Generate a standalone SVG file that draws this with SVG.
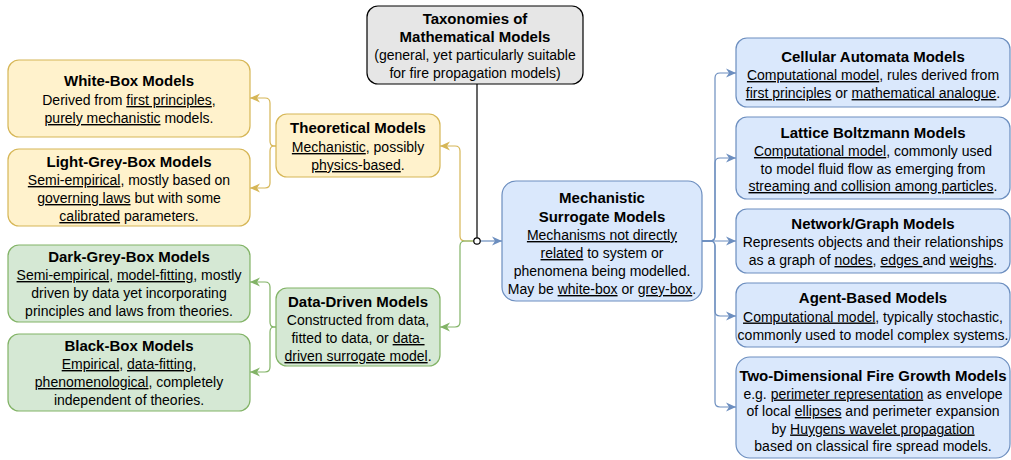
<svg xmlns="http://www.w3.org/2000/svg" width="1011" height="460" viewBox="0 0 1011 460">
<defs>
<style>
text{font-family:"Liberation Sans",Arial,Helvetica,sans-serif;font-size:14px;fill:#000;text-anchor:middle}
.t{font-weight:bold;font-size:15px}
.u{text-decoration:underline}
.y{fill:#fff2cc;stroke:#d6b656;stroke-width:1.2}
.g{fill:#d5e8d4;stroke:#82b366;stroke-width:1.2}
.b{fill:#dae8fc;stroke:#6c8ebf;stroke-width:1.2}
.k{fill:#e6e6e6;stroke:#000;stroke-width:1.2}
.cy{fill:none;stroke:#d6b656;stroke-width:1.2;marker-end:url(#ay)}
.cg{fill:none;stroke:#82b366;stroke-width:1.2;marker-end:url(#ag)}
.cb{fill:none;stroke:#6c8ebf;stroke-width:1.2;marker-end:url(#ab)}
</style>
<marker id="ay" markerUnits="userSpaceOnUse" markerWidth="11" markerHeight="10" refX="10" refY="5" orient="auto"><path d="M0,0.5 L10,5 L0,9.5 L3,5 Z" fill="#d6b656"/></marker>
<marker id="ag" markerUnits="userSpaceOnUse" markerWidth="11" markerHeight="10" refX="10" refY="5" orient="auto"><path d="M0,0.5 L10,5 L0,9.5 L3,5 Z" fill="#82b366"/></marker>
<marker id="ab" markerUnits="userSpaceOnUse" markerWidth="11" markerHeight="10" refX="10" refY="5" orient="auto"><path d="M0,0.5 L10,5 L0,9.5 L3,5 Z" fill="#6c8ebf"/></marker>
</defs>

<g id="connectors">
<path d="M477,84 V238" fill="none" stroke="#000" stroke-width="1.2"/>
<path class="cb" d="M480,241 H502"/>
<path class="cy" d="M474,241 H465 Q460,241 460,236 V151 Q460,146 455,146 H440"/>
<path class="cg" d="M474,241 H465 Q460,241 460,246 V322 Q460,327 455,327 H440"/>
<path class="cy" d="M276,146 H274 Q270,146 270,141 V103 Q270,98 265,98 H250"/>
<path class="cy" d="M276,146 H274 Q270,146 270,151 V183 Q270,188 265,188 H250"/>
<path class="cg" d="M276,327 H274 Q270,327 270,322 V287 Q270,282 265,282 H250"/>
<path class="cg" d="M276,327 H274 Q270,327 270,332 V367 Q270,372 265,372 H250"/>
<path class="cb" d="M702,241 H710 Q715,241 715,236 V78 Q715,73 720,73 H736"/>
<path class="cb" d="M702,241 H710 Q715,241 715,236 V163 Q715,158 720,158 H736"/>
<path class="cb" d="M702,241 H736"/>
<path class="cb" d="M702,241 H710 Q715,241 715,246 V311 Q715,316 720,316 H736"/>
<path class="cb" d="M702,241 H710 Q715,241 715,246 V402 Q715,407 720,407 H736"/>
<circle cx="477" cy="241" r="3.2" fill="#fff" stroke="#000" stroke-width="1.2"/>
</g>

<g id="taxonomies">
<rect class="k" x="367" y="6" width="216" height="78" rx="11"/>
<text class="t" x="475" y="24">Taxonomies of</text>
<text class="t" x="475" y="42">Mathematical Models</text>
<text x="475" y="60">(general, yet particularly suitable</text>
<text x="475" y="78">for fire propagation models)</text>
</g>

<g id="white-box">
<rect class="y" x="8" y="60" width="242" height="77" rx="11"/>
<text class="t" x="129" y="86">White-Box Models</text>
<text x="129" y="105">Derived from <tspan class="u">first principles</tspan>,</text>
<text x="129" y="123"><tspan class="u">purely mechanistic</tspan> models.</text>
</g>

<g id="light-grey-box">
<rect class="y" x="8" y="149" width="242" height="77" rx="11"/>
<text class="t" x="129" y="167">Light-Grey-Box Models</text>
<text x="129" y="185"><tspan class="u">Semi-empirical</tspan>, mostly based on</text>
<text x="129" y="203"><tspan class="u">governing laws</tspan> but with some</text>
<text x="129" y="221"><tspan class="u">calibrated</tspan> parameters.</text>
</g>

<g id="dark-grey-box">
<rect class="g" x="8" y="245" width="242" height="77" rx="11"/>
<text class="t" x="129" y="262">Dark-Grey-Box Models</text>
<text x="129" y="280"><tspan class="u">Semi-empirical</tspan>, <tspan class="u">model-fitting</tspan>, mostly</text>
<text x="129" y="298">driven by data yet incorporating</text>
<text x="129" y="316">principles and laws from theories.</text>
</g>

<g id="black-box">
<rect class="g" x="8" y="334" width="242" height="77" rx="11"/>
<text class="t" x="129" y="351">Black-Box Models</text>
<text x="129" y="369"><tspan class="u">Empirical</tspan>, <tspan class="u">data-fitting</tspan>,</text>
<text x="129" y="387"><tspan class="u">phenomenological</tspan>, completely</text>
<text x="129" y="405">independent of theories.</text>
</g>

<g id="theoretical">
<rect class="y" x="276" y="114" width="164" height="63" rx="11"/>
<text class="t" x="358" y="133">Theoretical Models</text>
<text x="358" y="152"><tspan class="u">Mechanistic</tspan>, possibly</text>
<text x="358" y="170"><tspan class="u">physics-based</tspan>.</text>
</g>

<g id="data-driven">
<rect class="g" x="276" y="288" width="164" height="78" rx="11"/>
<text class="t" x="358" y="307">Data-Driven Models</text>
<text x="358" y="325">Constructed from data,</text>
<text x="358" y="343">fitted to data, or <tspan class="u">data-</tspan></text>
<text x="358" y="361"><tspan class="u">driven surrogate model</tspan>.</text>
</g>

<g id="mechanistic-surrogate">
<rect class="b" x="502" y="181" width="200" height="120" rx="14"/>
<text class="t" x="602" y="203">Mechanistic</text>
<text class="t" x="602" y="221.5">Surrogate Models</text>
<text x="602" y="240"><tspan class="u">Mechanisms not directly</tspan></text>
<text x="602" y="258"><tspan class="u">related</tspan> to system or</text>
<text x="602" y="276">phenomena being modelled.</text>
<text x="602" y="294">May be <tspan class="u">white-box</tspan> or <tspan class="u">grey-box</tspan>.</text>
</g>

<g id="cellular-automata">
<rect class="b" x="736" y="38" width="274" height="69" rx="11"/>
<text class="t" x="873" y="62">Cellular Automata Models</text>
<text x="873" y="80"><tspan class="u">Computational model</tspan>, rules derived from</text>
<text x="873" y="98"><tspan class="u">first principles</tspan> or <tspan class="u">mathematical analogue</tspan>.</text>
</g>

<g id="lattice-boltzmann">
<rect class="b" x="736" y="117" width="274" height="82" rx="11"/>
<text class="t" x="873" y="138">Lattice Boltzmann Models</text>
<text x="873" y="156"><tspan class="u">Computational model</tspan>, commonly used</text>
<text x="873" y="173.5">to model fluid flow as emerging from</text>
<text x="873" y="191"><tspan class="u">streaming and collision among particles</tspan>.</text>
</g>

<g id="network-graph">
<rect class="b" x="736" y="209" width="274" height="64" rx="11"/>
<text class="t" x="873" y="229">Network/Graph Models</text>
<text x="873" y="247">Represents objects and their relationships</text>
<text x="873" y="265">as a graph of <tspan class="u">nodes</tspan>, <tspan class="u">edges </tspan>and <tspan class="u">weighs</tspan>.</text>
</g>

<g id="agent-based">
<rect class="b" x="736" y="283" width="274" height="64" rx="11"/>
<text class="t" x="873" y="303">Agent-Based Models</text>
<text x="873" y="321.5"><tspan class="u">Computational model</tspan>, typically stochastic,</text>
<text x="873" y="339.5">commonly used to model complex systems.</text>
</g>

<g id="two-dimensional-fire-growth">
<rect class="b" x="736" y="357" width="274" height="101" rx="14"/>
<text class="t" x="873" y="381">Two-Dimensional Fire Growth Models</text>
<text x="873" y="398.5">e.g. <tspan class="u">perimeter representation</tspan> as envelope</text>
<text x="873" y="416">of local <tspan class="u">ellipses</tspan> and perimeter expansion</text>
<text x="873" y="433.5">by <tspan class="u">Huygens wavelet propagation</tspan></text>
<text x="873" y="451">based on classical fire spread models.</text>
</g>
</svg>
